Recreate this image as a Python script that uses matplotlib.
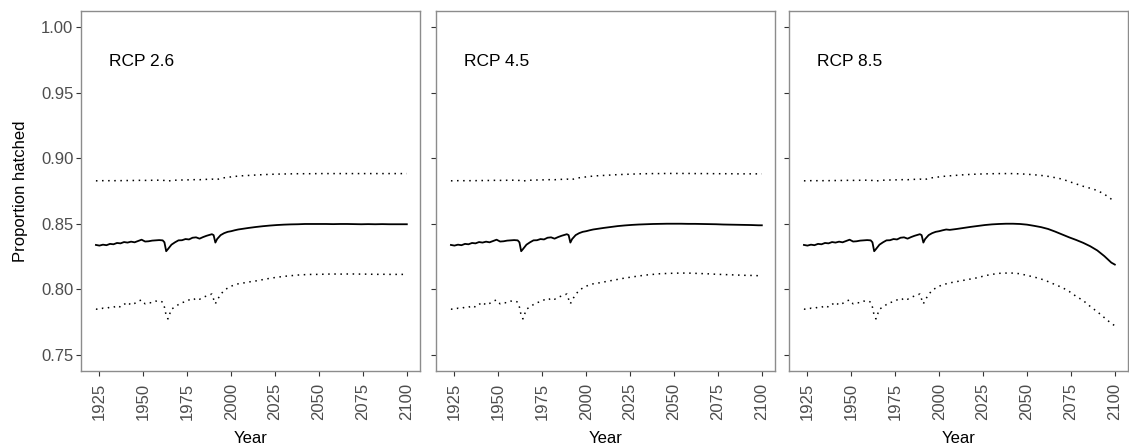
import matplotlib
matplotlib.use("Agg")
import matplotlib.pyplot as plt

plt.rcParams['font.family'] = ['Liberation Sans', 'DejaVu Sans']

# historical period (shared by all scenarios)
hist_years = [1923, 1925, 1927, 1929, 1931, 1933, 1935, 1937, 1939, 1941, 1943, 1945,
              1947, 1949, 1951, 1953, 1955, 1957, 1959, 1961, 1962, 1963, 1964, 1966,
              1968, 1970, 1972, 1974, 1976, 1978, 1980, 1982, 1984, 1986, 1988, 1989,
              1990, 1991, 1992, 1994, 1996, 1998, 2000, 2002, 2004]
hist_mean = [0.8338, 0.8333, 0.8340, 0.8336, 0.8346, 0.8343, 0.8353, 0.8350, 0.8360, 0.8356,
             0.8363, 0.8358, 0.8368, 0.8378, 0.8364, 0.8366, 0.8371, 0.8373, 0.8375, 0.8373,
             0.8358, 0.8290, 0.8306, 0.8340, 0.8358, 0.8373, 0.8374, 0.8383, 0.8380, 0.8393,
             0.8396, 0.8386, 0.8398, 0.8408, 0.8416, 0.8420, 0.8413, 0.8356, 0.8383, 0.8413,
             0.8428, 0.8438, 0.8443, 0.8450, 0.8456]
hist_lower = [0.7848, 0.7845, 0.7855, 0.7853, 0.7863, 0.7861, 0.7876, 0.7863, 0.7883, 0.7901,
              0.7878, 0.7891, 0.7908, 0.7918, 0.7888, 0.7898, 0.7895, 0.7908, 0.7913, 0.7901,
              0.7863, 0.7798, 0.7773, 0.7848, 0.7863, 0.7883, 0.7898, 0.7903, 0.7918, 0.7913,
              0.7933, 0.7923, 0.7938, 0.7948, 0.7958, 0.7963, 0.7923, 0.7888, 0.7918, 0.7958,
              0.7993, 0.8008, 0.8023, 0.8033, 0.8041]
hist_upper = [0.8828, 0.8827, 0.8829, 0.8828, 0.8829, 0.8828, 0.8830, 0.8829, 0.8830, 0.8830,
              0.8831, 0.8830, 0.8831, 0.8832, 0.8831, 0.8831, 0.8832, 0.8832, 0.8833, 0.8832,
              0.8830, 0.8824, 0.8826, 0.8830, 0.8832, 0.8834, 0.8834, 0.8835, 0.8835, 0.8836,
              0.8837, 0.8836, 0.8838, 0.8839, 0.8840, 0.8841, 0.8839, 0.8834, 0.8838, 0.8846,
              0.8851, 0.8854, 0.8858, 0.8861, 0.8864]

# projections
fut_years = [2006, 2010, 2014, 2018, 2022, 2026, 2030, 2034, 2038, 2042, 2046, 2050, 2054,
             2058, 2062, 2066, 2070, 2074, 2078, 2082, 2086, 2090, 2094, 2098, 2100]

rcp26_mean = [0.8460, 0.8468, 0.8475, 0.8481, 0.8486, 0.8490, 0.8493, 0.8495, 0.8496, 0.8498,
              0.8498, 0.8498, 0.8498, 0.8497, 0.8498, 0.8498, 0.8497, 0.8496, 0.8497, 0.8496,
              0.8497, 0.8496, 0.8496, 0.8496, 0.8496]
rcp26_lower = [0.8045, 0.8055, 0.8063, 0.8073, 0.8083, 0.8091, 0.8098, 0.8103, 0.8108, 0.8111,
               0.8113, 0.8113, 0.8115, 0.8116, 0.8115, 0.8116, 0.8116, 0.8115, 0.8115, 0.8113,
               0.8114, 0.8113, 0.8113, 0.8113, 0.8113]
rcp26_upper = [0.8866, 0.8869, 0.8872, 0.8875, 0.8877, 0.8879, 0.8880, 0.8881, 0.8882, 0.8882,
               0.8882, 0.8883, 0.8883, 0.8883, 0.8883, 0.8883, 0.8883, 0.8883, 0.8883, 0.8883,
               0.8883, 0.8883, 0.8883, 0.8883, 0.8883]

rcp45_mean = [0.8460, 0.8468, 0.8475, 0.8482, 0.8487, 0.8491, 0.8494, 0.8496, 0.8498, 0.8499,
              0.8500, 0.8500, 0.8500, 0.8499, 0.8499, 0.8498, 0.8497, 0.8496, 0.8494, 0.8493,
              0.8492, 0.8491, 0.8490, 0.8488, 0.8488]
rcp45_lower = [0.8045, 0.8055, 0.8065, 0.8075, 0.8085, 0.8093, 0.8101, 0.8108, 0.8113, 0.8118,
               0.8120, 0.8122, 0.8123, 0.8123, 0.8121, 0.8119, 0.8117, 0.8114, 0.8112, 0.8110,
               0.8108, 0.8106, 0.8105, 0.8103, 0.8103]
rcp45_upper = [0.8866, 0.8869, 0.8872, 0.8875, 0.8877, 0.8879, 0.8881, 0.8882, 0.8883, 0.8883,
               0.8884, 0.8884, 0.8884, 0.8884, 0.8883, 0.8883, 0.8883, 0.8882, 0.8882, 0.8882,
               0.8881, 0.8881, 0.8881, 0.8881, 0.8881]

rcp85_mean = [0.8453, 0.8460, 0.8468, 0.8476, 0.8483, 0.8490, 0.8495, 0.8498, 0.8500, 0.8500,
              0.8498, 0.8493, 0.8484, 0.8474, 0.8460, 0.8440, 0.8418, 0.8396, 0.8376, 0.8354,
              0.8328, 0.8296, 0.8253, 0.8203, 0.8188]
rcp85_lower = [0.8048, 0.8058, 0.8068, 0.8078, 0.8088, 0.8103, 0.8113, 0.8121, 0.8123, 0.8123,
               0.8118, 0.8105, 0.8093, 0.8078, 0.8058, 0.8035, 0.8013, 0.7983, 0.7945, 0.7913,
               0.7868, 0.7828, 0.7783, 0.7738, 0.7721]
rcp85_upper = [0.8866, 0.8870, 0.8874, 0.8877, 0.8879, 0.8881, 0.8882, 0.8883, 0.8883, 0.8883,
               0.8881, 0.8878, 0.8874, 0.8869, 0.8862, 0.8852, 0.8841, 0.8822, 0.8804, 0.8786,
               0.8771, 0.8754, 0.8726, 0.8688, 0.8672]

scenarios = ['RCP 2.6', 'RCP 4.5', 'RCP 8.5']
means = [rcp26_mean, rcp45_mean, rcp85_mean]
lowers = [rcp26_lower, rcp45_lower, rcp85_lower]
uppers = [rcp26_upper, rcp45_upper, rcp85_upper]

x_ticks = [1925, 1950, 1975, 2000, 2025, 2050, 2075, 2100]
y_ticks = [0.75, 0.80, 0.85, 0.90, 0.95, 1.00]

fig = plt.figure(figsize=(11.29, 4.48), dpi=100)
lefts = [81 / 1129, 436 / 1129, 789 / 1129]
w = 339 / 1129
bottom = 77 / 448
h = 360 / 448

years = hist_years + fut_years
for i, name in enumerate(scenarios):
    ax = fig.add_axes([lefts[i], bottom, w, h])
    ax.plot(years, hist_mean + means[i], color='black', lw=1.3)
    ax.plot(years, hist_lower + lowers[i], color='black', lw=1.1, linestyle=(0, (1, 3)))
    ax.plot(years, hist_upper + uppers[i], color='black', lw=1.1, linestyle=(0, (1, 3)))
    ax.set_xlim(1914.5, 2107.5)
    ax.set_ylim(0.7375, 1.0125)
    ax.set_xticks(x_ticks)
    ax.set_yticks(y_ticks)
    ax.set_yticklabels(['%.2f' % t for t in y_ticks])
    if i == 0:
        ax.set_ylabel('Proportion hatched', fontsize=12, color='black', labelpad=9)
    else:
        ax.tick_params(axis='y', labelleft=False)
    ax.set_xlabel('Year', fontsize=12, color='black', labelpad=8)
    ax.tick_params(axis='both', length=3.5, width=0.8, color='#333333',
                   labelsize=12, labelcolor='#4d4d4d', pad=2)
    ax.tick_params(axis='x', labelrotation=90, pad=5)
    for s in ax.spines.values():
        s.set_color('#8c8c8c')
        s.set_linewidth(1.0)
    ax.text(1930.5, 0.974, name, fontsize=12.5, ha='left', va='center', color='black')

fig.savefig('out.png', dpi=100)
